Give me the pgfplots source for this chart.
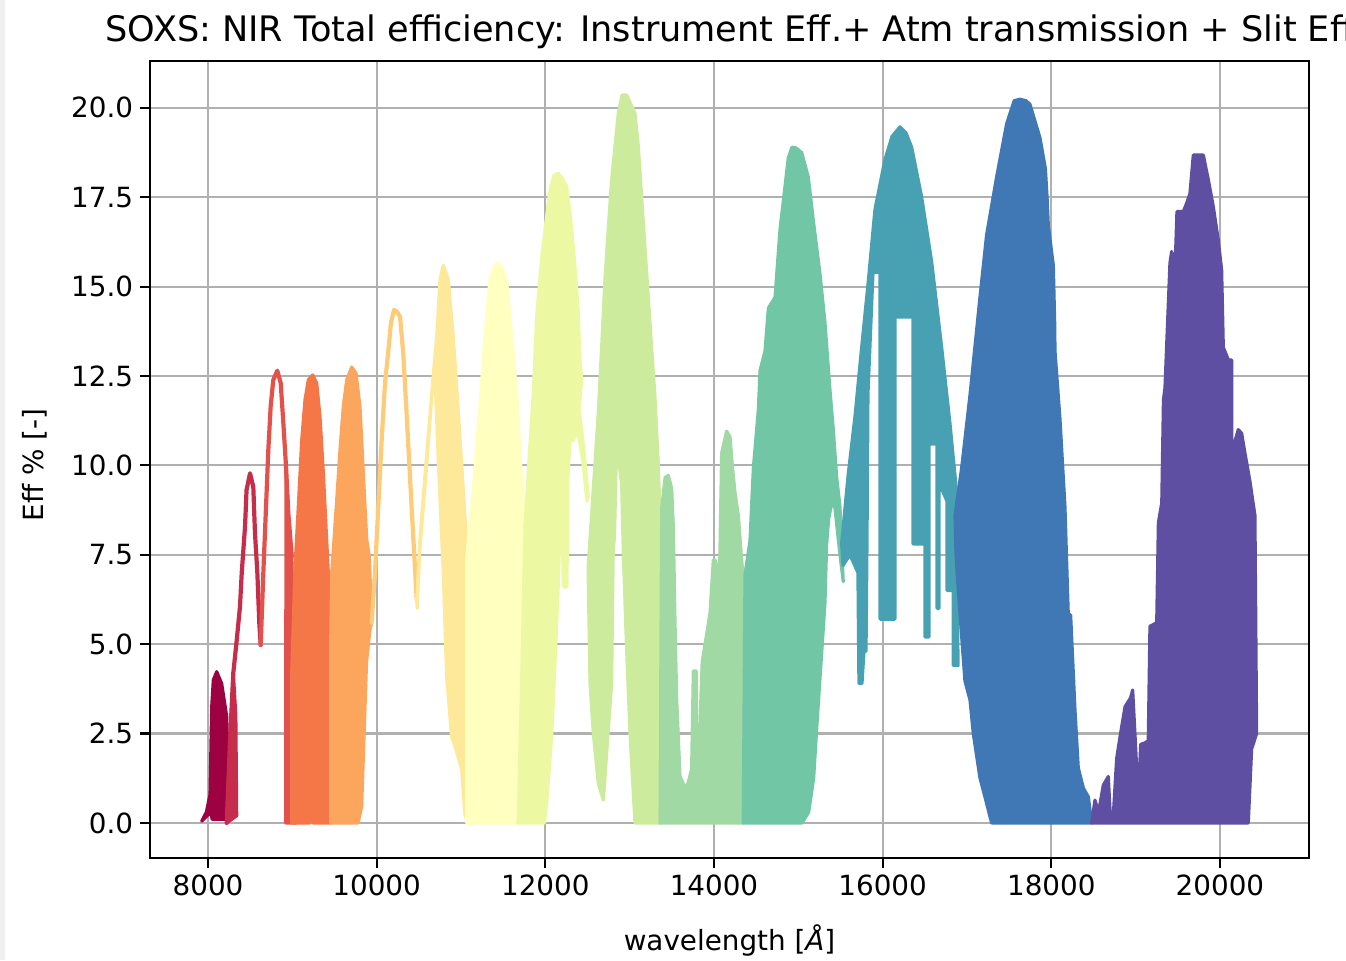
\documentclass[border=0pt]{standalone}
\usepackage{fontspec}
\setmainfont{DejaVu Sans}
\usepackage{pgfplots}
\pgfplotsset{compat=1.18}

% Spectral colormap, 15 orders
\definecolor{o1}{RGB}{158,1,66}
\definecolor{o2}{RGB}{197,45,75}
\definecolor{o3}{RGB}{226,82,74}
\definecolor{o4}{RGB}{245,118,71}
\definecolor{o5}{RGB}{252,165,93}
\definecolor{o6}{RGB}{254,203,121}
\definecolor{o7}{RGB}{254,233,154}
\definecolor{o8}{RGB}{255,255,191}
\definecolor{o9}{RGB}{237,248,163}
\definecolor{o10}{RGB}{205,235,157}
\definecolor{o11}{RGB}{161,217,164}
\definecolor{o12}{RGB}{112,198,165}
\definecolor{o13}{RGB}{72,161,179}
\definecolor{o14}{RGB}{63,120,181}
\definecolor{o15}{RGB}{94,79,162}
\definecolor{gridgray}{RGB}{176,176,176}

\tikzset{
  ord/.style={draw=#1, fill=#1, line width=1.6pt, line join=round},
  lin/.style={draw=#1, line width=2.1pt, line join=round, line cap=round},
}

\begin{document}
\begin{tikzpicture}
\begin{axis}[
  at={(0,0)}, anchor=south west,
  scale only axis, width=579.5pt, height=398.5pt,
  xmin=7312, xmax=21056, ymin=-0.98, ymax=21.31,
  xtick={8000,10000,...,20000}, ytick={0,2.5,...,20},
  scaled x ticks=false,
  grid=major, grid style={gridgray, line width=1.1pt},
  axis line style={line width=1.1pt},
  tick align=outside, tick pos=left,
  major tick length=4.9pt,
  every tick/.style={black, line width=1.1pt},
  tick label style={font=\fontsize{13.9}{16}\selectfont},
  /pgf/number format/assume math mode=true,
  xticklabel style={/pgf/number format/1000 sep={}},
  yticklabel style={/pgf/number format/.cd, fixed, fixed zerofill, precision=1},
  xlabel={wavelength [\textit{Å}]},
  ylabel={Eff \% [-]},
  label style={font=\fontsize{13.9}{16}\selectfont},
  xlabel style={at={(axis description cs:0.5,-0.103)}, anchor=center},
  ylabel style={at={(axis description cs:-0.099,0.493)}, anchor=center},
  title={SOXS: NIR Total efficiency: Instrument Eff.+ Atm transmission + Slit Eff.},
  title style={at={(axis description cs:-0.0388,1.0088)}, anchor=base west,
    inner sep=0pt, yshift=0pt, font=\fontsize{17.55}{21}\selectfont},
  no markers,
]
% order 1
\addplot[ord=o1] coordinates {(7925,0.05) (7980,0.3) (8024,0.8) (8044,3.25) (8063,4.0)
  (8103,4.23) (8162,3.9) (8222,2.97) (8255,0.1) (8050,0.1) (8030,0.3)} -- cycle;
% order 2
\addplot[ord=o2] coordinates {(8222,0) (8261,2.3) (8300,4.2) (8330,3) (8340,0.2)} -- cycle;
\addplot[lin=o2] coordinates {(8222,0) (8261,2.3) (8300,4.2) (8340,5.1) (8379,6.05)
  (8400,7.0) (8439,8.29) (8457,9.31) (8498,9.78) (8537,9.4) (8557,8.1) (8585,7.0)
  (8608,5.6) (8625,4.98)};
% order 3
\addplot[lin=o3] coordinates {(8625,4.98) (8656,7.0) (8688,8.85) (8715,10.43) (8743,11.65)
  (8774,12.39) (8822,12.65) (8862,12.3) (8893,11.2) (8925,9.97) (8952,8.67) (8993,7.45)};
\addplot[ord=o3] coordinates {(8920,0) (8925,9.97) (8952,8.67) (8993,7.45) (9020,5) (9044,0)} -- cycle;
% order 4
\addplot[ord=o4] coordinates {(8993,0) (8990,4) (9032,7.17) (9071,8.85) (9111,10.7)
  (9150,11.83) (9189,12.39) (9242,12.53) (9289,12.3) (9328,11.37) (9368,9.78) (9407,7.92)
  (9447,6.05) (9459,3) (9455,0) (9245,0) (9245,2.9) (9210,2.9) (9210,0)} -- cycle;
% order 5
\addplot[ord=o5] coordinates {(9455,0) (9455,5) (9467,7.0) (9526,9.03) (9565,10.43)
  (9604,11.65) (9645,12.39) (9704,12.75) (9755,12.58) (9802,11.65) (9842,9.78) (9882,7.92)
  (9913,7.45) (9941,5.6) (9920,5.4) (9880,4.5) (9862,3.25) (9822,0.46) (9780,0)} -- cycle;
% order 6
\addplot[lin=o6] coordinates {(9941,5.6) (9980,7) (10019,8.85) (10059,10.7) (10099,12.3)
  (10138,13.2) (10170,14) (10206,14.35) (10241,14.3) (10277,14.16) (10316,13.1)
  (10356,11.4) (10415,8.8) (10475,6.24)};
% order 7
\addplot[ord=o7] coordinates {(10475,6.24) (10514,8) (10593,10.3) (10672,12.56) (10712,13.6)
  (10751,15.2) (10790,15.6) (10849,15.2) (10909,13.6) (10968,11.5) (11027,9.34) (11067,7.84)
  (11080,0) (11047,0.22) (11008,1.5) (10909,2.3) (10889,2.38) (10830,4.1) (10790,7.0)
  (10731,10.1) (10700,12.0) (10660,12.1) (10590,9.9) (10510,7.6) (10480,6.0)} -- cycle;
% order 8
\addplot[ord=o8] coordinates {(11067,0) (11067,7.4) (11126,8.8) (11166,9.87) (11225,11.7)
  (11284,13.6) (11344,15.2) (11400,15.6) (11442,15.66) (11490,15.5) (11542,15.13)
  (11601,13.6) (11660,12.0) (11700,10.3) (11739,9.0) (11720,3) (11650,0)} -- cycle;
% order 9
\addplot[ord=o9] coordinates {(11676,0) (11720,4) (11759,8.28) (11798,9.87) (11857,12.0)
  (11897,14.16) (11957,15.8) (11996,16.6) (12055,17.7) (12100,18.1) (12154,18.17)
  (12210,18.0) (12253,17.8) (12293,17.06) (12332,16.1) (12364,15.2) (12391,14.26)
  (12411,12.87) (12431,12.39) (12400,11.6) (12450,10.6) (12510,9.13) (12495,9.0)
  (12440,10.2) (12380,11.0) (12332,10.7) (12293,10.74) (12265,9.5) (12257,6.6)
  (12215,6.6) (12198,8.28) (12174,8.28) (12154,6.65) (12115,4.5) (12075,2.38)
  (12016,0.56) (11990,0)} -- cycle;
% order 10
\addplot[ord=o10] coordinates {(12510,7.27) (12550,8.67) (12589,10.07) (12628,11.47)
  (12668,13.32) (12707,15.2) (12746,16.6) (12786,17.99) (12826,18.92) (12865,19.85)
  (12910,20.36) (12964,20.36) (13063,19.85) (13103,18.92) (13142,17.52) (13181,16.12)
  (13221,14.72) (13260,13.32) (13300,11.92) (13339,10.07) (13360,8.67) (13380,6.8)
  (13375,0) (13063,0) (13004,2.5) (12964,4.84) (12924,7.6) (12905,9.5) (12845,10.5)
  (12820,8) (12805,7.6) (12786,3.9) (12688,0.64) (12628,1.1) (12569,2.5) (12530,3.9)
  (12510,6.7)} -- cycle;
% order 11
\addplot[ord=o11] coordinates {(13360,0) (13380,8.8) (13420,9.66) (13459,9.72) (13499,9.34)
  (13518,8.28) (13538,5.6) (13558,3.44) (13597,1.31) (13636,1.1) (13676,0.98) (13735,1.5)
  (13755,4.25) (13790,4.25) (13800,1.5) (13830,0.98) (13840,3.16) (13860,4.5) (13953,5.87)
  (13992,7.36) (14012,7.36) (14032,7.2) (14060,6) (14070,7.5) (14091,10.35) (14150,10.96)
  (14190,10.8) (14220,9.93) (14249,9.25) (14289,8.6) (14328,7.36) (14344,6.96) (14350,0)} -- cycle;
% order 12
\addplot[ord=o12] coordinates {(14347,0) (14368,6.95) (14427,7.9) (14467,9.93) (14526,11.56)
  (14546,12.65) (14605,13.2) (14645,14.4) (14724,14.7) (14783,16.6) (14842,17.8)
  (14881,18.6) (14925,18.9) (14972,18.88) (15040,18.75) (15118,18.07) (15178,16.85)
  (15257,15.36) (15316,14.0) (15376,12.1) (15415,11.0) (15455,9.66) (15494,8.85)
  (15533,6.75) (15494,7.5) (15435,8.8) (15400,9.0) (15360,8.5) (15336,7.8) (15316,6.14)
  (15270,4.5) (15221,2.75) (15182,1.26) (15123,0.3) (15044,0)} -- cycle;
% order 13
\addplot[ord=o13] coordinates {(15514,7.83) (15592,9.76) (15672,11.37) (15751,13.3)
  (15829,15.13) (15909,17.16) (16027,18.55) (16111,19.2) (16206,19.47) (16277,19.3)
  (16344,18.9) (16463,17.5) (16581,15.7) (16700,13.3) (16799,11.16) (16878,9.23)
  (16894,4.4) (16838,4.4) (16838,6.5) (16763,6.5) (16763,9.0) (16669,9.5) (16669,6.0)
  (16645,6.0) (16645,10.6) (16550,10.6) (16550,5.2) (16503,5.2) (16503,7.8) (16360,7.8)
  (16360,14.15) (16146,14.15) (16146,5.7) (15969,5.7) (15969,15.4) (15886,15.4)
  (15826,12) (15815,8) (15803,4.8) (15779,4.8) (15755,3.9) (15719,3.9) (15707,7)
  (15612,7.5) (15530,7.2)} -- cycle;
% order 14
\addplot[ord=o14] coordinates {(16858,8.6) (16937,9.93) (17036,11.97) (17154,14.7)
  (17233,16.45) (17352,18.07) (17471,19.56) (17560,20.2) (17629,20.24) (17700,20.2)
  (17747,20.1) (17866,19.16) (17930,18.3) (17950,17.5) (17965,16.7) (18024,15.6)
  (18040,14) (18044,13.2) (18103,11.3) (18162,8.85) (18201,5.87) (18230,5.8) (18281,3.16)
  (18320,1.54) (18380,0.98) (18439,0.73) (18479,0) (17292,0) (17213,0.73) (17154,1.26)
  (17075,2.5) (17036,3.44) (16976,3.97) (16897,6.5) (16870,7.5)} -- cycle;
% order 15
\addplot[ord=o15] coordinates {(18479,0) (18518,0.64) (18560,0.3) (18617,1.06) (18676,1.3)
  (18700,0.2) (18735,0.2) (18775,1.8) (18815,2.41) (18874,3.25) (18940,3.5) (18965,3.72)
  (18992,2.5) (19032,0.64) (19060,2.2) (19111,2.24) (19150,2.3) (19170,5.5) (19250,5.6)
  (19270,8.4) (19310,8.95) (19330,11.83) (19348,12.17) (19407,15.66) (19427,15.98)
  (19470,15.66) (19490,17.1) (19565,17.1) (19600,17.3) (19644,17.6) (19684,18.68)
  (19803,18.68) (19862,17.99) (19921,17.24) (19980,16.3) (20020,15.47) (20040,13.3)
  (20100,12.95) (20139,12.95) (20139,10.35) (20217,11.0) (20257,10.9) (20296,10.35)
  (20356,9.55) (20415,8.6) (20435,2.5) (20376,2.07) (20336,0)} -- cycle;
\end{axis}
\fill[black!6] (-75pt,-51pt) rectangle (-72.5pt,429pt);
\pgfresetboundingbox
\useasboundingbox (-75pt,-51pt) rectangle (598pt,429pt);
\end{tikzpicture}
\end{document}
